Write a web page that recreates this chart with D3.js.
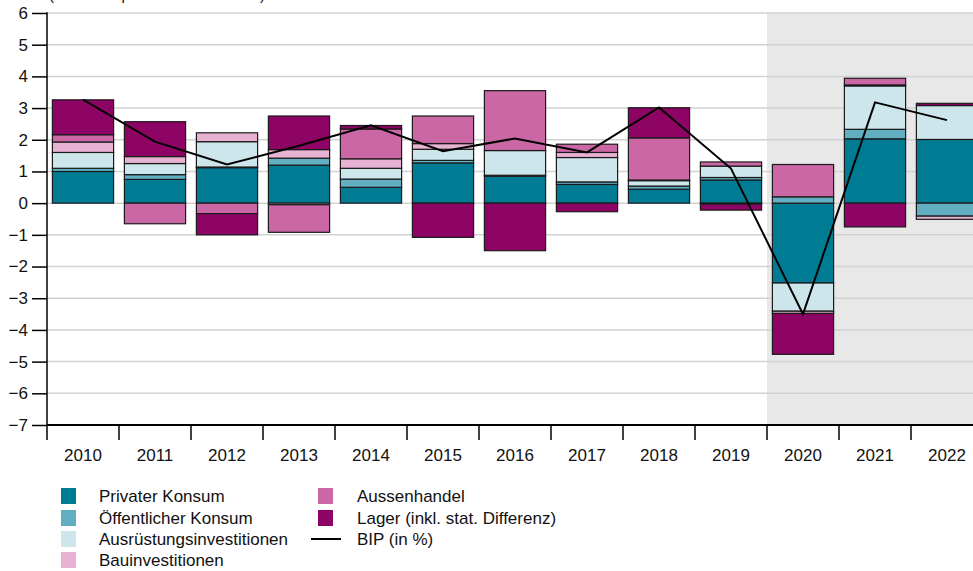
<!DOCTYPE html>
<html>
<head>
<meta charset="utf-8">
<script src="https://cdn.jsdelivr.net/npm/d3@7"></script>
<style>
  html, body { margin: 0; padding: 0; background: #fff; }
  svg { display: block; font-family: "Liberation Sans", Arial, sans-serif; }
</style>
</head>
<body>
<svg id="chart" width="973" height="571"></svg>
<script>
const years = ["2010","2011","2012","2013","2014","2015","2016","2017","2018","2019","2020","2021","2022"];
const privaterKonsum     = [1.00, 0.75, 1.12, 1.20, 0.50, 1.27, 0.85, 0.59, 0.44, 0.73, -2.52, 2.03, 2.01];
const oeffentlicherKonsum= [0.10, 0.15, 0.02, 0.22, 0.26, 0.08, 0.03, 0.08, 0.10, 0.08, 0.20, 0.30, -0.41];
const ausruestung        = [0.50, 0.35, 0.80, -0.05, 0.34, 0.35, 0.78, 0.77, 0.17, 0.36, -0.89, 1.37, 1.07];
const bau                = [0.33, 0.22, 0.28, 0.27, 0.30, 0.18, 0.00, 0.16, 0.02, -0.03, -0.07, 0.03, -0.10];
const aussenhandel       = [0.23, -0.65, -0.33, -0.87, 0.94, 0.87, 1.89, 0.26, 1.33, 0.13, 1.02, 0.21, 0.00];
const lager              = [1.10, 1.10, -0.67, 1.06, 0.11, -1.08, -1.50, -0.27, 0.95, -0.19, -1.29, -0.75, 0.07];
const bip                = [3.27, 1.94, 1.22, 1.81, 2.46, 1.64, 2.04, 1.60, 3.02, 1.09, -3.50, 3.18, 2.62];
const seriesNames = ["Privater Konsum","Öffentlicher Konsum","Ausrüstungsinvestitionen","Bauinvestitionen","Aussenhandel","Lager (inkl. stat. Differenz)"];
const seriesValues = [privaterKonsum, oeffentlicherKonsum, ausruestung, bau, aussenhandel, lager];
const colors = ["#007b94","#62afc2","#cde6eb","#e8b3d2","#cb67a4","#8e0464"];
const yTicks = [-7,-6,-5,-4,-3,-2,-1,0,1,2,3,4,5,6];
const lineLabel = "BIP (in %)";
const subtitle = "(in Prozentpunkten und Prozent)";
const shadedFrom = "2020";

(function () {
const svg = d3.select("#chart");
const W = 973;
const mLeft = 47, mTop = 13, mBottom = 425;
const step = 72;
const FS = 17;
const x = d3.scaleBand().domain(years).range([mLeft, mLeft + step * years.length])
  .paddingInner(0.15).paddingOuter(0.075);
const y = d3.scaleLinear().domain([-7, 6]).range([mBottom, mTop]);

const table = years.map((yr, i) => {
  const o = { year: yr };
  seriesNames.forEach((s, k) => o[s] = seriesValues[k][i]);
  return o;
});
const stacked = d3.stack().keys(seriesNames).offset(d3.stackOffsetDiverging)(table);

const gap = (x.step() - x.bandwidth()) / 2;
const bandStart = d => x(d) - gap;

// subtitle (cut at top, as in the reference)
svg.append("text").attr("x", 49).attr("y", 0).attr("font-size", 15).attr("fill", "#111").text(subtitle);

// shaded region
svg.append("rect").attr("x", bandStart(shadedFrom)).attr("y", mTop)
  .attr("width", W - bandStart(shadedFrom)).attr("height", mBottom - mTop).attr("fill", "#e8e8e8");

// gridlines
svg.append("g").selectAll("line").data(yTicks).join("line")
  .attr("x1", mLeft).attr("x2", W).attr("y1", d => y(d)).attr("y2", d => y(d))
  .attr("stroke", "#d2d2d2").attr("stroke-width", 1.5);

// bars
const g = svg.append("g");
stacked.forEach((layer, k) => {
  g.append("g").selectAll("rect").data(layer.filter(d => Math.abs(d[1] - d[0]) > 0)).join("rect")
    .attr("x", d => x(d.data.year))
    .attr("width", x.bandwidth())
    .attr("y", d => y(Math.max(d[0], d[1])))
    .attr("height", d => Math.abs(y(d[0]) - y(d[1])))
    .attr("fill", colors[k])
    .attr("stroke", "#1a1a1a").attr("stroke-width", 1.2);
});

// BIP line
const line = d3.line().x((d, i) => x(years[i]) + x.bandwidth() / 2).y(d => y(d));
svg.append("path").datum(bip).attr("d", line).attr("fill", "none")
  .attr("stroke", "#000").attr("stroke-width", 2);

// y axis
const yAxis = svg.append("g").attr("transform", `translate(${mLeft},0)`)
  .call(d3.axisLeft(y).tickValues(yTicks).tickSize(15).tickPadding(4));
yAxis.select(".domain").remove();
yAxis.selectAll(".tick line").attr("stroke", "#000").attr("stroke-width", 1.5);
yAxis.selectAll("text").attr("font-size", FS).attr("fill", "#111").attr("font-family", "Liberation Sans, Arial, sans-serif");
svg.append("line").attr("x1", mLeft).attr("x2", mLeft).attr("y1", mTop - 0.75).attr("y2", mBottom)
  .attr("stroke", "#000").attr("stroke-width", 1.5);

// x axis
svg.append("line").attr("x1", mLeft).attr("x2", W).attr("y1", mBottom).attr("y2", mBottom)
  .attr("stroke", "#000").attr("stroke-width", 2);
svg.append("g").selectAll("line").data(years).join("line")
  .attr("x1", d => bandStart(d)).attr("x2", d => bandStart(d))
  .attr("y1", mBottom).attr("y2", mBottom + 15)
  .attr("stroke", "#000").attr("stroke-width", 1.5);
const xAxis = svg.append("g").attr("transform", `translate(0,${mBottom})`)
  .call(d3.axisBottom(x).tickSize(0).tickPadding(24));
xAxis.select(".domain").remove();
xAxis.selectAll("text").attr("font-size", FS).attr("fill", "#111").attr("font-family", "Liberation Sans, Arial, sans-serif");

// legend
const leg = svg.append("g");
const rowY = [496, 518, 539, 560];
const col1 = seriesNames.slice(0, 4), col2 = seriesNames.slice(4);
col1.forEach((s, i) => {
  leg.append("rect").attr("x", 61).attr("y", rowY[i] - 8).attr("width", 15).attr("height", 16).attr("fill", colors[i]);
  leg.append("text").attr("x", 99).attr("y", rowY[i]).attr("dy", "0.35em").attr("font-size", FS).attr("fill", "#111").text(s);
});
col2.forEach((s, j) => {
  const i = j + 4;
  leg.append("rect").attr("x", 318).attr("y", rowY[j] - 8).attr("width", 15).attr("height", 16).attr("fill", colors[i]);
  leg.append("text").attr("x", 357).attr("y", rowY[j]).attr("dy", "0.35em").attr("font-size", FS).attr("fill", "#111").text(s);
});
leg.append("line").attr("x1", 311).attr("x2", 341).attr("y1", rowY[2]).attr("y2", rowY[2])
  .attr("stroke", "#000").attr("stroke-width", 2);
leg.append("text").attr("x", 357).attr("y", rowY[2]).attr("dy", "0.35em").attr("font-size", FS).attr("fill", "#111").text(lineLabel);
})();
</script>
</body>
</html>
